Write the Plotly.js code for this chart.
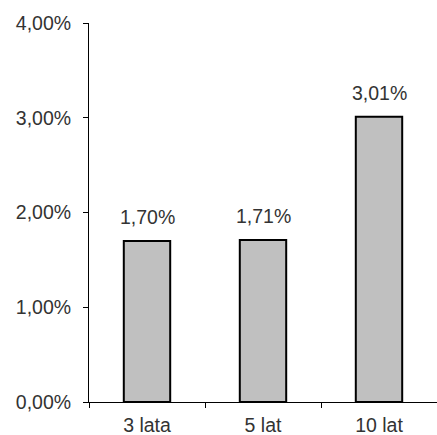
<!DOCTYPE html>
<html>
<head>
<meta charset="utf-8">
<script src="https://cdn.plot.ly/plotly-3.0.1.min.js"></script>
<style>html,body{margin:0;padding:0;background:#fff;}#chart{width:437px;height:435px;}</style>
</head>
<body>
<div id="chart"></div>
<script>
const categories = ["3 lata", "5 lat", "10 lat"];
const values = [1.70, 1.71, 3.01];
const yTicks = [0, 1, 2, 3, 4];

const fontFamily = "Liberation Sans, Arial, sans-serif";
const textColor = "#333333";
const fontSize = 19.5;

const trace = {
  type: "bar",
  x: categories,
  y: values,
  width: 0.4,
  marker: { color: "#c0c0c0", line: { color: "#000000", width: 2 } },
  hoverinfo: "none"
};

const annotations = categories.map((c, i) => ({
  x: c,
  y: values[i],
  xref: "x",
  yref: "y",
  text: values[i].toFixed(2).replace(".", ",") + "%",
  showarrow: false,
  yanchor: "bottom",
  yshift: 11,
  font: { family: fontFamily, size: fontSize, color: textColor }
}));

const layout = {
  width: 437,
  height: 435,
  margin: { l: 89, r: 0, t: 23, b: 33 },
  paper_bgcolor: "#ffffff",
  plot_bgcolor: "#ffffff",
  separators: ", ",
  showlegend: false,
  font: { family: fontFamily, size: fontSize, color: textColor },
  xaxis: {
    type: "category",
    showline: true,
    linecolor: "#000000",
    linewidth: 1,
    ticks: "outside",
    tickson: "boundaries",
    ticklen: 5,
    tickcolor: "#000000",
    showgrid: false,
    zeroline: false,
    ticklabelstandoff: 6,
    tickfont: { family: fontFamily, size: fontSize, color: textColor }
  },
  yaxis: {
    range: [0, 4],
    tickvals: yTicks,
    ticktext: yTicks.map(v => v.toFixed(2).replace(".", ",") + "%"),
    showline: true,
    linecolor: "#000000",
    linewidth: 1,
    ticks: "outside",
    ticklen: 5,
    tickcolor: "#000000",
    showgrid: false,
    zeroline: false,
    ticklabelstandoff: 8,
    tickfont: { family: fontFamily, size: fontSize, color: textColor }
  },
  annotations: annotations
};

Plotly.newPlot("chart", [trace], layout, { displayModeBar: false, staticPlot: true });
</script>
</body>
</html>
